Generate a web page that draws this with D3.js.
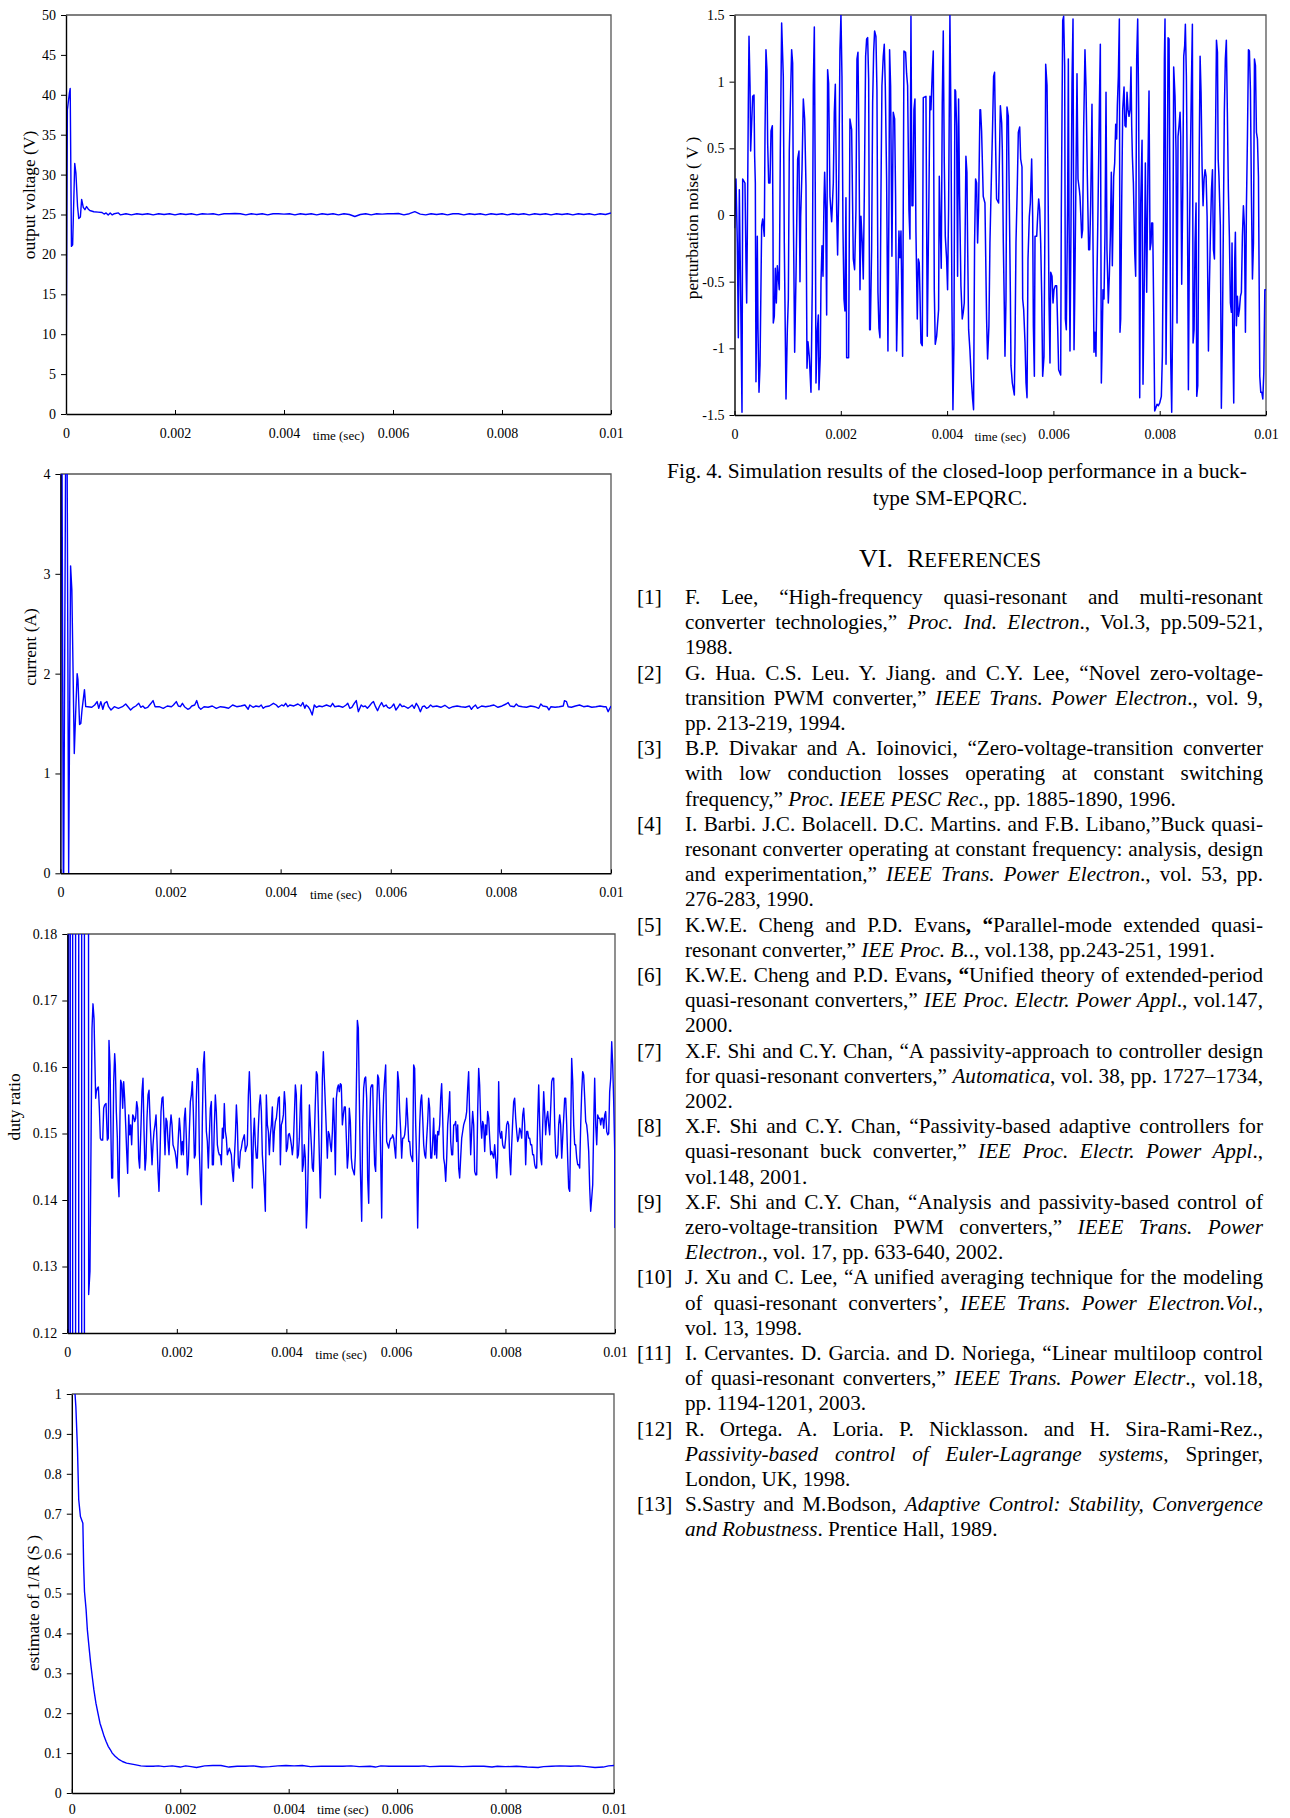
<!DOCTYPE html>
<html><head><meta charset="utf-8">
<script src="https://cdn.jsdelivr.net/npm/d3@7"></script>
<style>
body{margin:0;background:#fff;}
svg{display:block;font-family:"Liberation Serif","Times New Roman",serif;}
</style></head><body>
<svg id="page" width="1290" height="1818"></svg>
<script>
// ---------- shared axis data ----------
const xTickValues = [0, 0.002, 0.004, 0.006, 0.008, 0.01];
const xTickLabels = ["0", "0.002", "0.004", "0.006", "0.008", "0.01"];
const xAxisTitle = "time (sec)";

const voltageTicks = [0, 5, 10, 15, 20, 25, 30, 35, 40, 45, 50];
const voltageTickLabels = ["0","5","10","15","20","25","30","35","40","45","50"];
const noiseTicks = [-1.5, -1, -0.5, 0, 0.5, 1, 1.5];
const noiseTickLabels = ["-1.5","-1","-0.5","0","0.5","1","1.5"];
const currentTicks = [0, 1, 2, 3, 4];
const currentTickLabels = ["0","1","2","3","4"];
const dutyTicks = [0.12, 0.13, 0.14, 0.15, 0.16, 0.17, 0.18];
const dutyTickLabels = ["0.12","0.13","0.14","0.15","0.16","0.17","0.18"];
const rTicks = [0, 0.1, 0.2, 0.3, 0.4, 0.5, 0.6, 0.7, 0.8, 0.9, 1];
const rTickLabels = ["0","0.1","0.2","0.3","0.4","0.5","0.6","0.7","0.8","0.9","1"];

// ---------- series: [time in ms, value] ----------
const voltageData = [[0,0],[0.025,38.1],[0.062,40.2],[0.077,40.8],[0.100,21.0],[0.122,21.2],[0.160,31.4],[0.182,30.2],[0.212,26.0],[0.234,24.5],[0.264,24.7],[0.287,26.9],[0.317,25.9],[0.347,25.6],[0.377,26.0],[0.407,25.7],[0.437,25.5],[0.511,25.35],[0.587,25.3],[0.661,25.25],[0.699,25.06],[0.736,25.2],[0.774,24.95],[0.811,25.2],[0.849,24.95],[0.886,25.1],[0.961,25.2],
[1.0,24.95],[1.1,25.1],[1.2,24.95],[1.3,25.1],[1.4,25.0],[1.5,25.1],[1.6,24.95],[1.7,25.1],[1.8,25.0],[1.9,25.1],[2.0,24.95],[2.1,25.1],[2.2,25.0],[2.3,25.1],[2.4,24.95],[2.5,25.1],[2.6,25.05],[2.7,25.1],[2.8,24.95],[2.9,25.1],[3.0,25.1],[3.1,25.12],[3.2,25.1],[3.3,24.95],[3.4,25.1],[3.5,25.0],[3.6,25.1],[3.7,24.95],[3.8,25.1],[3.9,25.1],[4.0,25.05],[4.1,25.1],[4.2,24.95],[4.3,25.1],[4.4,25.0],[4.5,25.1],[4.6,24.95],[4.7,25.1],[4.8,25.0],[4.9,25.1],[5.0,24.95],[5.1,25.1],[5.2,25.0],[5.3,24.75],[5.4,25.0],[5.5,25.1],[5.6,24.95],[5.7,25.1],[5.8,25.05],[5.9,25.1],[6.0,25.1],[6.1,25.12],[6.2,24.95],[6.3,25.1],[6.4,25.35],[6.5,25.05],[6.6,24.95],[6.7,25.1],[6.8,25.0],[6.9,25.1],[7.0,24.95],[7.1,25.1],[7.2,25.1],[7.3,24.95],[7.4,25.1],[7.5,25.0],[7.6,25.1],[7.7,24.95],[7.8,25.1],[7.9,25.0],[8.0,25.1],[8.1,24.95],[8.2,25.1],[8.3,25.0],[8.4,25.1],[8.5,24.95],[8.6,25.1],[8.7,25.0],[8.8,25.1],[8.9,24.95],[9.0,25.1],[9.1,25.0],[9.2,25.1],[9.3,24.95],[9.4,25.1],[9.5,25.0],[9.6,25.1],[9.7,24.95],[9.8,25.1],[9.9,25.0],[10.0,25.2]];

const noiseData = [[0,-0.10],[0.028,0.27],[0.053,-0.21],[0.072,-0.92],[0.091,0.19],[0.116,-0.61],[0.141,-1.48],[0.154,0.27],[0.197,0.24],[0.216,-0.36],[0.229,-0.66],[0.241,-0.16],[0.260,0.82],[0.273,1.34],[0.292,0.97],[0.304,0.48],[0.323,0.69],[0.342,0.89],[0.367,0.90],[0.379,0.44],[0.392,0.24],[0.404,-1.25],[0.429,-0.16],[0.442,-0.86],[0.461,-1.33],[0.480,-1.13],[0.511,-0.08],[0.530,-0.03],[0.561,-0.16],[0.574,0.61],[0.592,1.24],[0.611,1.09],[0.624,0.54],[0.643,0.24],[0.668,0.24],[0.687,0.63],[0.712,0.67],[0.724,-0.08],[0.730,-0.81],[0.749,-0.76],[0.768,-0.40],[0.787,-0.66],[0.806,-0.38],[0.843,-0.56],[0.862,0.49],[0.887,1.44],[0.918,1.04],[0.937,-0.21],[0.969,-1.38],[0.994,-0.86],[1.013,-0.63],[1.031,0.49],[1.056,0.92],[1.075,1.24],[1.094,1.14],[1.107,0.04],[1.132,-1.03],[1.157,-0.46],[1.188,0.42],[1.213,0.48],[1.232,-0.50],[1.245,-0.01],[1.270,0.34],[1.295,0.87],[1.320,0.72],[1.345,0.22],[1.364,-1.15],[1.382,-0.95],[1.407,-1.06],[1.439,-1.33],[1.464,-0.51],[1.483,0.97],[1.502,1.41],[1.520,0.17],[1.533,-1.26],[1.558,-0.87],[1.577,-0.75],[1.589,-1.31],[1.614,-1.06],[1.627,-0.51],[1.646,-0.23],[1.665,-0.46],[1.683,0.09],[1.696,0.32],[1.715,0.04],[1.734,-0.75],[1.752,1.09],[1.771,0.99],[1.796,0.14],[1.828,-0.05],[1.859,0.24],[1.878,0.77],[1.897,0.98],[1.922,0.04],[1.940,-0.30],[1.959,0.12],[1.984,1.24],[2.003,1.50],[2.022,1.04],[2.041,-0.11],[2.060,-0.63],[2.078,-0.72],[2.097,0.13],[2.110,-1.07],[2.147,-1.07],[2.172,0.72],[2.204,0.64],[2.235,-0.33],[2.260,-0.41],[2.285,0.04],[2.304,1.17],[2.323,1.22],[2.342,0.54],[2.361,-0.56],[2.379,-0.01],[2.404,-0.21],[2.423,-0.48],[2.442,0.14],[2.467,1.19],[2.486,1.32],[2.505,1.33],[2.524,1.02],[2.542,-0.86],[2.555,-0.86],[2.580,-0.26],[2.599,0.84],[2.618,1.22],[2.636,1.38],[2.661,1.34],[2.680,0.94],[2.699,-0.58],[2.718,-0.85],[2.737,-0.92],[2.755,0.14],[2.774,0.97],[2.799,1.19],[2.818,1.28],[2.837,0.97],[2.862,0.27],[2.887,-1.02],[2.906,0.09],[2.918,1.24],[2.937,0.97],[2.962,-0.31],[2.987,0.77],[3.013,0.72],[3.031,0.14],[3.050,-1.02],[3.069,-0.63],[3.094,-0.12],[3.113,-0.32],[3.132,-0.12],[3.163,-1.06],[3.176,0.14],[3.188,1.23],[3.219,1.22],[3.238,1.06],[3.257,0.97],[3.282,0.04],[3.301,-0.18],[3.320,1.49],[3.339,0.07],[3.357,0.07],[3.376,0.79],[3.395,0.87],[3.414,-0.13],[3.439,-0.78],[3.458,-0.33],[3.476,-0.36],[3.489,-0.58],[3.508,-0.96],[3.533,-0.98],[3.552,0.88],[3.602,0.89],[3.627,-0.91],[3.658,0.14],[3.677,0.89],[3.696,0.79],[3.721,1.07],[3.740,1.23],[3.759,-0.56],[3.777,-0.97],[3.803,-0.91],[3.840,-0.71],[3.853,0.29],[3.871,-0.08],[3.890,-0.40],[3.909,0.84],[3.928,1.38],[3.947,0.39],[3.966,-0.16],[3.991,-0.33],[4.009,-0.56],[4.028,0.04],[4.053,1.50],[4.072,0.74],[4.091,-0.66],[4.110,-1.46],[4.129,-0.96],[4.147,0.94],[4.160,0.93],[4.179,0.67],[4.197,-0.46],[4.216,0.87],[4.235,0.14],[4.260,-0.53],[4.285,-0.78],[4.304,-0.73],[4.323,-0.66],[4.336,-0.28],[4.354,0.44],[4.373,0.32],[4.386,-0.21],[4.405,-0.86],[4.429,-1.01],[4.455,-1.23],[4.480,-1.38],[4.498,-1.46],[4.517,-0.21],[4.536,0.27],[4.555,0.24],[4.574,-0.21],[4.592,0.04],[4.618,0.79],[4.630,0.79],[4.649,0.63],[4.680,0.14],[4.712,0.09],[4.743,-0.78],[4.762,-1.08],[4.787,-0.83],[4.806,-0.21],[4.824,0.12],[4.856,0.67],[4.875,1.04],[4.893,1.07],[4.912,0.54],[4.931,0.12],[4.969,0.09],
[5.002,0.82],[5.027,0.69],[5.039,0.49],[5.058,-0.21],[5.077,-0.71],[5.089,-1.06],[5.108,-0.63],[5.127,0.81],[5.152,0.74],[5.171,0.09],[5.190,-0.58],[5.202,-1.13],[5.227,-1.26],[5.265,-1.35],[5.278,-0.96],[5.296,-0.21],[5.322,0.24],[5.340,0.62],[5.366,0.66],[5.384,0.42],[5.409,0.36],[5.422,-0.63],[5.441,-0.71],[5.466,-0.96],[5.485,-1.26],[5.504,-1.37],[5.522,-0.33],[5.547,-0.01],[5.566,0.09],[5.591,0.42],[5.610,-0.01],[5.623,-0.83],[5.642,-1.21],[5.654,-0.16],[5.686,-0.16],[5.704,-0.01],[5.723,0.12],[5.742,0.04],[5.761,-0.21],[5.780,-0.61],[5.798,-1.21],[5.823,-1.06],[5.842,-0.01],[5.855,1.13],[5.880,0.97],[5.898,0.29],[5.917,-0.63],[5.936,-1.11],[5.949,-0.43],[5.974,-0.46],[5.993,-0.66],[6.011,-0.56],[6.036,-0.53],[6.061,-0.53],[6.080,-0.83],[6.099,-1.16],[6.137,-1.20],[6.149,0.04],[6.162,0.74],[6.175,1.46],[6.193,1.49],[6.212,1.12],[6.225,-0.78],[6.243,-0.86],[6.268,0.09],[6.281,1.17],[6.294,-0.01],[6.312,-1.02],[6.331,-0.08],[6.350,0.99],[6.369,1.47],[6.388,-1.01],[6.400,-0.66],[6.425,0.29],[6.444,1.06],[6.463,0.27],[6.488,0.19],[6.500,0.14],[6.519,-0.03],[6.532,-0.17],[6.550,-0.11],[6.569,0.64],[6.594,1.24],[6.613,0.97],[6.638,0.29],[6.663,-0.26],[6.682,-0.26],[6.701,0.07],[6.726,0.83],[6.745,-0.21],[6.764,-1.03],[6.782,-0.88],[6.801,-1.06],[6.820,-0.46],[6.839,0.04],[6.864,0.79],[6.883,1.28],[6.902,-1.26],[6.914,-1.03],[6.933,-0.56],[6.952,-0.63],[6.971,-0.13],[6.990,0.92],[7.008,-0.26],[7.033,-0.66],[7.052,-0.46],[7.071,-0.16],[7.090,0.32],[7.109,-0.38],[7.134,0.29],[7.153,0.39],[7.172,0.68],[7.190,0.57],[7.203,0.82],[7.222,1.04],[7.241,1.47],[7.253,-0.88],[7.266,-0.78],[7.285,0.09],[7.304,0.79],[7.329,0.96],[7.347,0.67],[7.366,0.66],[7.385,0.92],[7.404,0.79],[7.423,0.74],[7.442,0.79],[7.460,1.11],[7.473,0.67],[7.486,0.44],[7.505,0.24],[7.530,-0.28],[7.548,-0.46],[7.567,1.17],[7.586,1.47],[7.605,0.79],[7.624,-1.37],[7.643,0.09],[7.668,0.56],[7.686,-1.27],[7.711,-0.46],[7.730,0.39],[7.755,-0.58],[7.780,0.39],[7.799,0.93],[7.818,-0.26],[7.837,-0.21],[7.849,-0.06],[7.868,-0.06],[7.887,-0.71],[7.906,-1.47],[7.925,-1.45],[7.950,-1.42],[7.975,-1.43],[8.000,-1.41],[8.031,-1.36],[8.050,-1.06],[8.069,-0.16],[8.088,1.17],[8.100,1.47],[8.119,-1.12],[8.138,-0.21],[8.157,1.33],[8.176,1.32],[8.194,0.04],[8.207,-1.08],[8.226,-1.48],[8.245,-0.71],[8.263,1.11],[8.288,0.89],[8.307,0.49],[8.326,-0.81],[8.345,0.59],[8.364,0.67],[8.383,0.77],[8.395,0.59],[8.414,-0.52],[8.433,0.14],[8.452,1.19],[8.470,1.27],[8.483,1.43],[8.502,1.04],[8.521,0.17],[8.540,-1.31],[8.558,-0.23],[8.577,0.41],[8.596,0.97],[8.615,1.43],[8.628,-0.96],[8.647,-0.86],[8.665,-0.21],[8.684,0.09],[8.697,-1.36],[8.716,-1.28],[8.741,0.34],[8.760,1.19],[8.778,0.92],[8.797,0.37],[8.816,0.07],[8.835,0.27],[8.854,0.34],[8.873,0.29],[8.892,-0.01],[8.917,-1.02],[8.936,-0.51],[8.955,-0.13],[8.974,0.19],[8.993,0.34],[9.011,-0.26],[9.030,-0.33],[9.049,0.54],[9.068,1.31],[9.087,1.22],[9.100,0.42],[9.115,0.29],[9.141,-0.08],[9.160,-1.45],[9.179,-0.93],[9.198,-0.08],[9.216,0.77],[9.235,1.17],[9.254,1.31],[9.273,0.77],[9.292,0.19],[9.311,-0.16],[9.330,-0.66],[9.349,-0.73],[9.361,-0.21],[9.374,-0.86],[9.393,-1.41],[9.412,-0.33],[9.424,-0.13],[9.443,-0.83],[9.462,-0.61],[9.481,-0.76],[9.500,-0.71],[9.519,-0.61],[9.537,-0.58],[9.556,-0.16],[9.575,0.07],[9.594,-0.08],[9.613,-0.88],[9.632,0.07],[9.651,0.59],[9.670,1.24],[9.688,1.23],[9.707,0.94],[9.726,0.14],[9.745,-0.48],[9.764,-0.21],[9.783,1.17],[9.802,1.12],[9.820,0.62],[9.839,0.57],[9.858,0.29],[9.883,-1.21],[9.902,-1.33],[9.921,-1.33],[9.940,-1.38],[9.959,-1.18],[9.978,-0.56],[10.0,-0.56]];

const currentData = [[0,0],[0.020,6.0],[0.052,0.0],[0.060,0.0],[0.110,6.0],[0.150,0.0],[0.185,3.08],[0.208,2.84],[0.252,1.20],[0.275,1.57],[0.304,2.00],[0.319,1.94],[0.348,1.49],[0.371,1.50],[0.393,1.64],[0.437,1.84],[0.460,1.67],
[0.497,1.669],[0.571,1.663],[0.623,1.686],[0.667,1.720],[0.697,1.653],[0.734,1.720],[0.771,1.643],[0.801,1.703],[0.845,1.720],[0.875,1.669],[0.919,1.636],[0.979,1.669],[1.053,1.653],[1.127,1.669],[1.186,1.696],[1.216,1.676],[1.275,1.636],[1.327,1.663],[1.371,1.676],[1.423,1.703],[1.460,1.663],[1.497,1.676],[1.535,1.653],[1.586,1.663],[1.646,1.703],[1.683,1.730],[1.720,1.669],[1.794,1.669],[1.868,1.653],[1.942,1.676],[2.016,1.669],[2.053,1.686],[2.105,1.720],[2.142,1.676],[2.179,1.669],[2.216,1.703],[2.254,1.669],[2.313,1.643],[2.350,1.653],[2.387,1.676],[2.439,1.686],[2.476,1.730],[2.513,1.663],[2.550,1.643],[2.609,1.669],[2.683,1.663],[2.758,1.676],[2.832,1.653],[2.906,1.669],[2.980,1.663],[3.054,1.653],[3.128,1.686],[3.202,1.669],[3.277,1.676],[3.351,1.686],[3.410,1.643],[3.440,1.686],[3.499,1.663],[3.551,1.676],[3.610,1.669],[3.647,1.686],[3.684,1.653],[3.721,1.669],[3.795,1.676],[3.869,1.703],[3.921,1.686],[3.958,1.663],[4.018,1.686],[4.055,1.676],[4.092,1.703],[4.129,1.669],[4.166,1.686],[4.240,1.676],[4.314,1.696],[4.366,1.676],[4.403,1.710],[4.440,1.653],[4.463,1.686],[4.500,1.669],[4.537,1.636],[4.574,1.586],[4.611,1.686],[4.648,1.663],[4.700,1.676],[4.759,1.669],[4.833,1.686],[4.907,1.669],[4.944,1.703],[4.981,1.669],[5.056,1.676],[5.130,1.663],[5.189,1.686],[5.219,1.703],[5.256,1.653],[5.293,1.663],[5.337,1.703],[5.374,1.730],[5.411,1.619],[5.463,1.686],[5.500,1.669],[5.537,1.676],[5.575,1.653],[5.612,1.676],[5.649,1.703],[5.686,1.720],[5.723,1.669],[5.760,1.629],[5.797,1.676],[5.834,1.710],[5.871,1.669],[5.915,1.686],[5.945,1.663],[5.982,1.653],[6.019,1.669],[6.056,1.696],[6.093,1.636],[6.130,1.663],[6.168,1.696],[6.205,1.669],[6.242,1.676],[6.316,1.653],[6.353,1.669],[6.390,1.686],[6.427,1.653],[6.464,1.703],[6.501,1.669],[6.538,1.619],[6.575,1.669],[6.612,1.676],[6.649,1.653],[6.686,1.663],[6.724,1.686],[6.761,1.669],[6.835,1.676],[6.909,1.663],[6.983,1.683],[7.057,1.653],[7.131,1.669],[7.205,1.676],[7.279,1.669],[7.354,1.663],[7.428,1.676],[7.465,1.643],[7.502,1.669],[7.539,1.686],[7.576,1.653],[7.650,1.676],[7.724,1.669],[7.798,1.676],[7.873,1.686],[7.947,1.663],[8.021,1.676],[8.095,1.696],[8.132,1.710],[8.169,1.676],[8.243,1.669],[8.280,1.696],[8.317,1.676],[8.391,1.669],[8.466,1.663],[8.540,1.676],[8.614,1.669],[8.688,1.653],[8.725,1.696],[8.762,1.676],[8.836,1.669],[8.873,1.636],[8.910,1.669],[8.985,1.663],[9.059,1.669],[9.133,1.676],[9.155,1.730],[9.192,1.720],[9.222,1.669],[9.281,1.663],[9.355,1.676],[9.429,1.686],[9.503,1.669],[9.577,1.676],[9.652,1.663],[9.726,1.669],[9.800,1.676],[9.874,1.669],[9.911,1.669],[9.948,1.619],[10.0,1.676]];

const dutyData = [[0,0],[0.022,0],[0.026,1],[0.050,1],[0.055,0],[0.097,0],[0.101,1],[0.148,1],[0.152,0],[0.208,0],[0.212,1],[0.259,1],[0.263,0],[0.312,0],[0.316,1],[0.350,1],
[0.390,0.1258],[0.414,0.1293],[0.433,0.1483],[0.451,0.1658],[0.469,0.1695],[0.488,0.1673],[0.500,0.1623],[0.518,0.1553],[0.530,0.1563],[0.548,0.1568],[0.567,0.1570],[0.585,0.1538],[0.603,0.1493],[0.621,0.1490],[0.646,0.1490],[0.664,0.1538],[0.682,0.1543],[0.707,0.1545],[0.731,0.1490],[0.749,0.1493],[0.761,0.1640],[0.780,0.1603],[0.798,0.1493],[0.810,0.1433],[0.828,0.1433],[0.847,0.1578],[0.865,0.1620],[0.877,0.1603],[0.895,0.1533],[0.914,0.1493],[0.926,0.1433],[0.944,0.1405],[0.962,0.1528],[0.974,0.1580],[0.993,0.1575],[1.011,0.1538],[1.029,0.1578],[1.047,0.1553],[1.066,0.1513],[1.084,0.1473],[1.102,0.1440],[1.121,0.1528],[1.139,0.1498],[1.157,0.1513],[1.175,0.1483],[1.194,0.1528],[1.212,0.1525],[1.230,0.1518],[1.248,0.1523],[1.267,0.1548],[1.285,0.1538],[1.303,0.1463],[1.321,0.1448],[1.346,0.1513],[1.364,0.1563],[1.382,0.1583],[1.401,0.1503],[1.419,0.1445],[1.437,0.1463],[1.455,0.1523],[1.474,0.1558],[1.492,0.1565],[1.510,0.1523],[1.528,0.1488],[1.547,0.1453],[1.565,0.1483],[1.583,0.1503],[1.601,0.1513],[1.620,0.1528],[1.638,0.1488],[1.656,0.1443],[1.674,0.1413],[1.693,0.1468],[1.711,0.1533],[1.729,0.1553],[1.747,0.1555],[1.766,0.1513],[1.784,0.1468],[1.802,0.1523],[1.820,0.1518],[1.839,0.1488],[1.857,0.1468],[1.875,0.1508],[1.894,0.1528],[1.912,0.1513],[1.930,0.1483],[1.948,0.1478],[1.967,0.1473],[1.985,0.1463],[2.003,0.1448],[2.027,0.1493],[2.046,0.1523],[2.064,0.1503],[2.082,0.1468],[2.100,0.1488],[2.119,0.1468],[2.137,0.1523],[2.155,0.1538],[2.174,0.1493],[2.192,0.1438],[2.210,0.1453],[2.228,0.1503],[2.247,0.1548],[2.265,0.1558],[2.283,0.1578],[2.301,0.1533],[2.320,0.1463],[2.338,0.1468],[2.356,0.1553],[2.374,0.1598],[2.393,0.1588],[2.411,0.1473],[2.429,0.1428],[2.448,0.1393],[2.466,0.1523],[2.484,0.1603],[2.502,0.1623],[2.521,0.1563],[2.539,0.1503],[2.557,0.1488],[2.575,0.1448],[2.594,0.1498],[2.612,0.1538],[2.630,0.1548],[2.648,0.1453],[2.667,0.1453],[2.685,0.1513],[2.703,0.1558],[2.721,0.1533],[2.740,0.1483],[2.758,0.1473],[2.776,0.1468],[2.794,0.1468],[2.813,0.1453],[2.831,0.1508],[2.849,0.1493],[2.867,0.1545],[2.886,0.1503],[2.904,0.1493],[2.922,0.1468],[2.940,0.1473],[2.959,0.1478],[2.977,0.1473],[2.995,0.1468],[3.013,0.1443],[3.032,0.1428],[3.050,0.1463],[3.068,0.1493],[3.087,0.1543],[3.105,0.1513],[3.123,0.1453],[3.141,0.1448],[3.160,0.1473],[3.178,0.1478],[3.196,0.1488],[3.214,0.1493],[3.233,0.1498],[3.251,0.1473],[3.269,0.1478],[3.287,0.1483],[3.306,0.1558],[3.324,0.1593],[3.342,0.1553],[3.360,0.1488],[3.379,0.1418],[3.397,0.1493],[3.415,0.1523],[3.434,0.1483],[3.452,0.1463],[3.470,0.1463],[3.488,0.1508],[3.507,0.1543],[3.525,0.1558],[3.543,0.1533],[3.561,0.1468],[3.580,0.1443],[3.598,0.1418],[3.616,0.1383],[3.634,0.1558],[3.653,0.1513],[3.671,0.1503],[3.689,0.1468],[3.707,0.1498],[3.726,0.1513],[3.744,0.1540],[3.762,0.1473],[3.780,0.1503],[3.799,0.1518],[3.817,0.1523],[3.835,0.1538],[3.853,0.1553],[3.872,0.1555],[3.890,0.1453],[3.908,0.1513],[3.926,0.1518],[3.945,0.1528],[3.963,0.1563],[3.981,0.1543],[3.999,0.1473],[4.018,0.1478],[4.036,0.1498],[4.054,0.1500],[4.073,0.1493],[4.091,0.1483],[4.109,0.1468],[4.127,0.1483],[4.146,0.1528],[4.164,0.1573],[4.182,0.1558],[4.200,0.1463],[4.219,0.1468],[4.237,0.1493],[4.255,0.1543],[4.273,0.1573],[4.292,0.1443],[4.310,0.1453],[4.328,0.1483],[4.346,0.1463],[4.365,0.1358],[4.383,0.1393],[4.401,0.1463],[4.420,0.1543],[4.438,0.1513],[4.456,0.1483],[4.474,0.1448],[4.493,0.1443],[4.511,0.1493],[4.529,0.1548],[4.547,0.1593],[4.566,0.1588],[4.584,0.1528],[4.602,0.1463],[4.620,0.1403],[4.639,0.1473],[4.657,0.1583],[4.675,0.1623],[4.693,0.1583],[4.712,0.1543],[4.730,0.1503],[4.748,0.1463],[4.766,0.1503],[4.785,0.1498],[4.803,0.1483],[4.821,0.1473],[4.840,0.1503],[4.858,0.1553],[4.876,0.1513],[4.894,0.1438],[4.913,0.1553],[4.931,0.1568],[4.949,0.1573],[4.967,0.1563],
[4.985,0.1575],[5.003,0.1573],[5.022,0.1513],[5.040,0.1528],[5.058,0.1540],[5.076,0.1540],[5.095,0.1493],[5.113,0.1448],[5.131,0.1468],[5.149,0.1538],[5.168,0.1518],[5.186,0.1463],[5.204,0.1448],[5.222,0.1443],[5.241,0.1438],[5.259,0.1468],[5.277,0.1563],[5.296,0.1670],[5.314,0.1658],[5.332,0.1553],[5.350,0.1448],[5.375,0.1368],[5.393,0.1513],[5.411,0.1568],[5.430,0.1583],[5.448,0.1585],[5.466,0.1553],[5.484,0.1433],[5.503,0.1395],[5.521,0.1513],[5.539,0.1568],[5.557,0.1573],[5.576,0.1573],[5.594,0.1503],[5.612,0.1453],[5.630,0.1443],[5.649,0.1533],[5.667,0.1588],[5.685,0.1583],[5.703,0.1543],[5.722,0.1463],[5.740,0.1373],[5.758,0.1513],[5.776,0.1558],[5.795,0.1583],[5.813,0.1603],[5.831,0.1488],[5.850,0.1483],[5.868,0.1478],[5.886,0.1488],[5.904,0.1493],[5.923,0.1493],[5.941,0.1498],[5.959,0.1493],[5.977,0.1478],[5.996,0.1463],[6.014,0.1513],[6.032,0.1593],[6.050,0.1578],[6.069,0.1533],[6.087,0.1503],[6.105,0.1463],[6.123,0.1493],[6.142,0.1493],[6.160,0.1498],[6.178,0.1513],[6.196,0.1553],[6.215,0.1523],[6.233,0.1488],[6.251,0.1488],[6.269,0.1468],[6.288,0.1463],[6.306,0.1458],[6.324,0.1603],[6.342,0.1598],[6.361,0.1513],[6.379,0.1458],[6.397,0.1358],[6.416,0.1453],[6.434,0.1513],[6.452,0.1548],[6.470,0.1558],[6.489,0.1523],[6.507,0.1483],[6.525,0.1468],[6.543,0.1463],[6.562,0.1493],[6.580,0.1518],[6.598,0.1553],[6.616,0.1538],[6.635,0.1463],[6.653,0.1463],[6.671,0.1488],[6.689,0.1523],[6.708,0.1468],[6.726,0.1498],[6.744,0.1463],[6.762,0.1503],[6.781,0.1498],[6.799,0.1513],[6.817,0.1553],[6.835,0.1575],[6.854,0.1523],[6.872,0.1463],[6.890,0.1453],[6.909,0.1428],[6.927,0.1463],[6.945,0.1513],[6.963,0.1533],[6.982,0.1563],[7.000,0.1488],[7.018,0.1468],[7.036,0.1468],[7.055,0.1513],[7.073,0.1513],[7.091,0.1518],[7.109,0.1488],[7.128,0.1513],[7.146,0.1448],[7.164,0.1433],[7.182,0.1463],[7.201,0.1493],[7.219,0.1503],[7.237,0.1513],[7.255,0.1518],[7.274,0.1523],[7.292,0.1533],[7.310,0.1568],[7.328,0.1593],[7.347,0.1523],[7.365,0.1468],[7.383,0.1503],[7.401,0.1533],[7.420,0.1513],[7.438,0.1443],[7.456,0.1438],[7.475,0.1438],[7.493,0.1533],[7.511,0.1598],[7.529,0.1573],[7.548,0.1518],[7.566,0.1493],[7.584,0.1518],[7.602,0.1513],[7.621,0.1473],[7.639,0.1513],[7.657,0.1498],[7.675,0.1533],[7.694,0.1523],[7.712,0.1493],[7.730,0.1468],[7.748,0.1473],[7.767,0.1468],[7.785,0.1463],[7.803,0.1483],[7.821,0.1463],[7.840,0.1433],[7.858,0.1463],[7.876,0.1578],[7.894,0.1503],[7.913,0.1493],[7.931,0.1503],[7.949,0.1483],[7.968,0.1478],[7.986,0.1478],[8.004,0.1493],[8.022,0.1513],[8.041,0.1518],[8.059,0.1513],[8.077,0.1463],[8.095,0.1438],[8.114,0.1483],[8.132,0.1518],[8.150,0.1548],[8.168,0.1553],[8.187,0.1523],[8.205,0.1503],[8.223,0.1488],[8.241,0.1493],[8.260,0.1508],[8.278,0.1503],[8.296,0.1493],[8.315,0.1528],[8.333,0.1538],[8.351,0.1513],[8.369,0.1453],[8.388,0.1503],[8.406,0.1503],[8.424,0.1493],[8.442,0.1493],[8.461,0.1483],[8.479,0.1483],[8.497,0.1468],[8.515,0.1468],[8.534,0.1453],[8.552,0.1448],[8.570,0.1448],[8.588,0.1518],[8.607,0.1573],[8.625,0.1513],[8.643,0.1463],[8.661,0.1453],[8.680,0.1513],[8.698,0.1563],[8.716,0.1533],[8.734,0.1498],[8.753,0.1523],[8.771,0.1533],[8.789,0.1513],[8.808,0.1498],[8.826,0.1538],[8.844,0.1578],[8.862,0.1583],[8.881,0.1583],[8.899,0.1513],[8.917,0.1468],[8.935,0.1463],[8.954,0.1468],[8.972,0.1513],[8.990,0.1528],[9.008,0.1513],[9.027,0.1463],[9.045,0.1493],[9.063,0.1523],[9.081,0.1553],[9.100,0.1553],[9.118,0.1513],[9.136,0.1463],[9.154,0.1418],[9.173,0.1413],[9.191,0.1503],[9.209,0.1613],[9.228,0.1578],[9.246,0.1513],[9.264,0.1483],[9.282,0.1483],[9.301,0.1463],[9.319,0.1453],[9.337,0.1453],[9.355,0.1448],[9.374,0.1513],[9.392,0.1563],[9.410,0.1593],[9.428,0.1588],[9.447,0.1553],[9.465,0.1518],[9.483,0.1513],[9.501,0.1498],[9.520,0.1473],[9.538,0.1418],[9.556,0.1383],[9.575,0.1403],[9.593,0.1423],[9.611,0.1513],[9.629,0.1583],[9.648,0.1513],[9.666,0.1483],[9.684,0.1528],[9.702,0.1523],[9.721,0.1523],[9.739,0.1513],[9.757,0.1523],[9.775,0.1523],[9.794,0.1508],[9.812,0.1528],[9.830,0.1533],[9.849,0.1503],[9.867,0.1498],[9.885,0.1500],[9.903,0.1563],[9.922,0.1583],[9.940,0.1638],[9.958,0.1603],[9.976,0.1548],[9.995,0.1473],[10.0,0.1358]];

const rEstimateData = [[0,1.30],[0.050,1.02],[0.075,0.968],[0.105,0.860],[0.128,0.735],[0.159,0.693],[0.204,0.676],[0.219,0.568],[0.234,0.505],[0.264,0.459],[0.287,0.409],[0.317,0.367],[0.347,0.326],[0.377,0.292],[0.407,0.259],[0.445,0.225],[0.482,0.200],[0.520,0.175],[0.557,0.159],[0.596,0.142],[0.633,0.129],[0.671,0.117],[0.709,0.109],[0.746,0.100],[0.799,0.092],[0.859,0.085],[0.934,0.079],[1.010,0.075],[1.085,0.073],[1.160,0.071],[1.273,0.068],[1.386,0.067],
[1.5,0.067],[1.6,0.068],[1.7,0.066],[1.85,0.068],[2.0,0.065],[2.1,0.068],[2.2,0.066],[2.3,0.064],[2.45,0.068],[2.6,0.069],[2.75,0.069],[2.9,0.065],[3.05,0.067],[3.2,0.067],[3.35,0.068],[3.5,0.065],[3.65,0.066],[3.8,0.068],[3.95,0.069],[4.1,0.068],[4.25,0.069],[4.4,0.066],[4.6,0.067],[4.8,0.067],[5.0,0.067],[5.15,0.068],[5.3,0.066],[5.5,0.067],[5.6,0.065],[5.7,0.068],[5.85,0.067],[6.0,0.067],[6.2,0.067],[6.4,0.067],[6.5,0.068],[6.6,0.066],[6.8,0.067],[7.0,0.067],[7.2,0.066],[7.4,0.067],[7.6,0.067],[7.75,0.065],[7.85,0.067],[8.0,0.066],[8.2,0.067],[8.4,0.065],[8.6,0.064],[8.7,0.066],[8.85,0.067],[9.0,0.068],[9.2,0.067],[9.35,0.068],[9.5,0.066],[9.65,0.064],[9.8,0.065],[9.9,0.068],[10.0,0.069]];

// ---------- text content ----------
const captionLines = ["Fig. 4. Simulation results of the closed-loop performance in a buck-", "type SM-EPQRC."];
const headingParts = ["VI.", "R", "EFERENCES"];
const refNumbers = ["[1]","[2]","[3]","[4]","[5]","[6]","[7]","[8]","[9]","[10]","[11]","[12]","[13]"];
const refLines = [
 [[["F. Lee, “High-frequency quasi-resonant and multi-resonant"]],
  [["converter technologies,” "],["Proc. Ind. Electron","i"],["., Vol.3, pp.509-521,"]],
  [["1988."]]],
 [[["G. Hua. C.S. Leu. Y. Jiang. and C.Y. Lee, “Novel zero-voltage-"]],
  [["transition PWM converter,” "],["IEEE Trans. Power Electron","i"],["., vol. 9,"]],
  [["pp. 213-219, 1994."]]],
 [[["B.P. Divakar and A. Ioinovici, “Zero-voltage-transition converter"]],
  [["with low conduction losses operating at constant switching"]],
  [["frequency,” "],["Proc. IEEE PESC Rec","i"],["., pp. 1885-1890, 1996."]]],
 [[["I. Barbi. J.C. Bolacell. D.C. Martins. and F.B. Libano,”Buck quasi-"]],
  [["resonant converter operating at constant frequency: analysis, design"]],
  [["and experimentation,” "],["IEEE Trans. Power Electron","i"],["., vol. 53, pp."]],
  [["276-283, 1990."]]],
 [[["K.W.E. Cheng and P.D. Evans"],[",","b"],[" "],["“","b"],["Parallel-mode extended quasi-"]],
  [["resonant converter,” "],["IEE Proc. B.","i"],["., vol.138, pp.243-251, 1991."]]],
 [[["K.W.E. Cheng and P.D. Evans"],[", “","b"],["Unified theory of extended-period"]],
  [["quasi-resonant converters,” "],["IEE Proc. Electr. Power Appl","i"],["., vol.147,"]],
  [["2000."]]],
 [[["X.F. Shi and C.Y. Chan, “A passivity-approach to controller design"]],
  [["for quasi-resonant converters,” "],["Automatica","i"],[", vol. 38, pp. 1727–1734,"]],
  [["2002."]]],
 [[["X.F. Shi and C.Y. Chan, “Passivity-based adaptive controllers for"]],
  [["quasi-resonant buck converter,” "],["IEE Proc. Electr. Power Appl","i"],[".,"]],
  [["vol.148, 2001."]]],
 [[["X.F. Shi and C.Y. Chan, “Analysis and passivity-based control of"]],
  [["zero-voltage-transition PWM converters,” "],["IEEE Trans. Power","i"]],
  [["Electron","i"],["., vol. 17, pp. 633-640, 2002."]]],
 [[["J. Xu and C. Lee, “A unified averaging technique for the modeling"]],
  [["of quasi-resonant converters’, "],["IEEE Trans. Power Electron.Vol","i"],[".,"]],
  [["vol. 13, 1998."]]],
 [[["I. Cervantes. D. Garcia. and D. Noriega, “Linear multiloop control"]],
  [["of quasi-resonant converters,” "],["IEEE Trans. Power Electr","i"],["., vol.18,"]],
  [["pp. 1194-1201, 2003."]]],
 [[["R. Ortega. A. Loria. P. Nicklasson. and H. Sira-Rami-Rez.,"]],
  [["Passivity-based control of Euler-Lagrange systems,","i"],[" Springer,"]],
  [["London, UK, 1998."]]],
 [[["S.Sastry and M.Bodson, "],["Adaptive Control: Stability, Convergence","i"]],
  [["and Robustness","i"],[". Prentice Hall, 1989."]]]
];

// ---------- drawing ----------
const svg = d3.select("#page");
const FONT = '"Liberation Serif","Times New Roman",serif';

const charts = [
  {id:"volt", box:{l:66, r:611, t:15, b:414}, yDomain:[0,50], ticks:voltageTicks, tickLabels:voltageTickLabels, data:voltageData, title:"output voltage (V)", titleX:35, titleY:195, lw:1.4, pad:14, tOff:26},
  {id:"noise", box:{l:734.5, r:1266, t:15, b:415}, yDomain:[-1.5,1.5], ticks:noiseTicks, tickLabels:noiseTickLabels, data:noiseData, title:"perturbation noise ( V )", titleX:698, titleY:218, lw:1.5, pad:14, tOff:26},
  {id:"curr", box:{l:60.4, r:611, t:474, b:873.3}, yDomain:[0,4], ticks:currentTicks, tickLabels:currentTickLabels, data:currentData, title:"current (A)", titleX:36, titleY:647, lw:1.4, pad:14, tOff:26},
  {id:"duty", box:{l:67.3, r:615, t:934, b:1333}, yDomain:[0.12,0.18], ticks:dutyTicks, tickLabels:dutyTickLabels, data:dutyData, title:"duty ratio", titleX:20, titleY:1107, lw:1.4, pad:14, tOff:26},
  {id:"rest", box:{l:71.8, r:614, t:1394, b:1793}, yDomain:[0,1], ticks:rTicks, tickLabels:rTickLabels, data:rEstimateData, title:"estimate of 1/R (S )", titleX:39, titleY:1603, lw:1.4, pad:11, tOff:21}
];

const defs = svg.append("defs");

charts.forEach(c => {
  const {l, r, t, b} = c.box;
  const x = d3.scaleLinear().domain([0, 0.01]).range([l, r]);
  const y = d3.scaleLinear().domain(c.yDomain).range([b, t]);
  const g = svg.append("g").attr("class", "chart-" + c.id);

  defs.append("clipPath").attr("id", "clip-" + c.id)
    .append("rect").attr("x", l).attr("y", t).attr("width", r - l).attr("height", b - t);

  // frame top/right
  g.append("path").attr("d", `M${l},${t}H${r}V${b}`).attr("fill", "none")
    .attr("stroke", "#555").attr("stroke-width", 1.3);

  // data line
  const line = d3.line().x(d => x(d[0] / 1000)).y(d => y(d[1]));
  g.append("path").datum(c.data).attr("d", line)
    .attr("clip-path", `url(#clip-${c.id})`)
    .attr("fill", "none").attr("stroke", "#0000ff").attr("stroke-width", c.lw)
    .attr("stroke-linejoin", "round");

  // y axis
  const ya = g.append("g").attr("transform", `translate(${l},0)`)
    .call(d3.axisLeft(y).tickValues(c.ticks).tickFormat((d, i) => c.tickLabels[i]).tickSizeInner(5).tickSizeOuter(0).tickPadding(5));
  ya.attr("font-family", FONT).attr("font-size", 14);
  ya.select(".domain").attr("stroke", "#000").attr("stroke-width", 1.4);
  ya.selectAll(".tick line").attr("stroke", "#000").attr("stroke-width", 1);
  ya.selectAll(".tick text").attr("fill", "#000");

  // x axis
  const xa = g.append("g").attr("transform", `translate(0,${b})`)
    .call(d3.axisBottom(x).tickValues(xTickValues).tickFormat((d, i) => xTickLabels[i]).tickSizeInner(-4).tickSizeOuter(0).tickPadding(c.pad));
  xa.attr("font-family", FONT).attr("font-size", 14);
  xa.select(".domain").attr("stroke", "#000").attr("stroke-width", 1.4);
  xa.selectAll(".tick line").attr("stroke", "#000").attr("stroke-width", 1);
  xa.selectAll(".tick text").attr("fill", "#000");

  // x axis title
  g.append("text").attr("x", x(0.005)).attr("y", b + c.tOff)
    .attr("text-anchor", "middle").attr("font-size", 13).attr("font-family", FONT)
    .text(xAxisTitle);

  // y axis title
  g.append("text").attr("transform", `translate(${c.titleX},${c.titleY}) rotate(-90)`)
    .attr("text-anchor", "middle").attr("font-size", 17.4).attr("font-family", FONT)
    .text(c.title);
});

// caption
const capX = [957, 950];
const capY = [478, 505];
captionLines.forEach((s, i) => {
  svg.append("text").attr("x", capX[i]).attr("y", capY[i]).attr("text-anchor", "middle")
    .attr("font-size", 21.4).attr("font-family", FONT).text(s);
});

// heading
const head = svg.append("text").attr("x", 950).attr("y", 567).attr("text-anchor", "middle").attr("font-family", FONT);
head.append("tspan").attr("font-size", 26).text(headingParts[0]);
head.append("tspan").attr("font-size", 26).attr("dx", 14).text(headingParts[1]);
head.append("tspan").attr("font-size", 20.8).text(headingParts[2]);

// references
const refNumX = 637, refTextX = 685, refRight = 1263, refY0 = 604, refDy = 25.2, refFont = 21.2;
let li = 0;
refLines.forEach((lines, ri) => {
  svg.append("text").attr("x", refNumX).attr("y", refY0 + li * refDy)
    .attr("font-size", refFont).attr("font-family", FONT).text(refNumbers[ri]);
  lines.forEach((segs, k) => {
    const t = svg.append("text").attr("x", refTextX).attr("y", refY0 + li * refDy)
      .attr("font-size", refFont).attr("font-family", FONT).style("white-space", "pre");
    segs.forEach(s => {
      const ts = t.append("tspan").text(s[0]);
      if (s[1] === "i") ts.attr("font-style", "italic");
      if (s[1] === "b") ts.attr("font-weight", "bold");
    });
    if (k < lines.length - 1) {
      const natural = t.node().getComputedTextLength();
      const str = segs.map(s => s[0]).join("");
      const n = (str.match(/ /g) || []).length;
      if (n > 0) {
        t.style("word-spacing", ((refRight - refTextX - natural) / n) + "px");
      }
    }
    li++;
  });
});
</script>
</body></html>
